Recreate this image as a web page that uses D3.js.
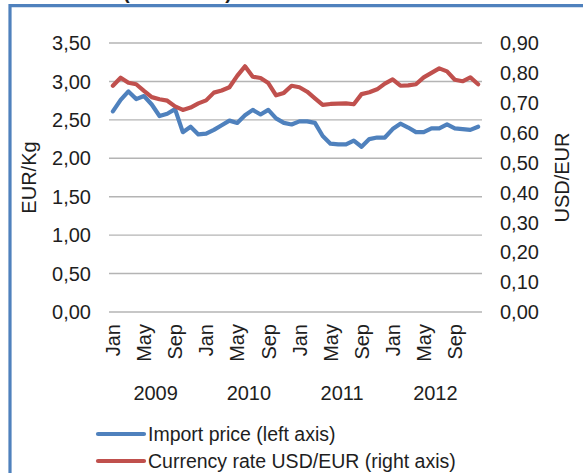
<!DOCTYPE html>
<html>
<head>
<meta charset="utf-8">
<script src="https://cdn.jsdelivr.net/npm/d3@7"></script>
<style>
  body { margin: 0; background: #fff; }
  svg { display: block; font-family: "Liberation Sans", Arial, sans-serif; }
</style>
</head>
<body>
<svg width="583" height="473"></svg>
<script>
// months Jan 2009 .. Dec 2012
const years = ["2009", "2010", "2011", "2012"];
const monthNames = ["Jan", "Feb", "Mar", "Apr", "May", "Jun", "Jul", "Aug", "Sep", "Oct", "Nov", "Dec"];
const shownMonths = ["Jan", "May", "Sep"];

// import price, EUR/Kg (left axis)
const importPrice = [
  2.61, 2.76, 2.87, 2.77, 2.81, 2.70, 2.55, 2.58, 2.64, 2.34, 2.41, 2.31,
  2.32, 2.37, 2.43, 2.49, 2.46, 2.56, 2.63, 2.57, 2.63, 2.52, 2.46, 2.44,
  2.48, 2.48, 2.46, 2.29, 2.19, 2.18, 2.18, 2.23, 2.15, 2.25, 2.27, 2.27,
  2.38, 2.45, 2.40, 2.34, 2.34, 2.39, 2.39, 2.44, 2.39, 2.38, 2.37, 2.41
];

// currency rate USD/EUR (right axis)
const currencyRate = [
  0.757, 0.784, 0.767, 0.762, 0.740, 0.719, 0.712, 0.707, 0.688, 0.676, 0.684, 0.698,
  0.708, 0.734, 0.741, 0.752, 0.790, 0.822, 0.787, 0.783, 0.766, 0.725, 0.733, 0.757,
  0.752, 0.737, 0.715, 0.693, 0.696, 0.697, 0.698, 0.695, 0.729, 0.735, 0.745, 0.764,
  0.778, 0.757, 0.758, 0.762, 0.785, 0.800, 0.815, 0.805, 0.777, 0.772, 0.785, 0.762
];

const leftTicks = [0, 0.5, 1, 1.5, 2, 2.5, 3, 3.5];
const rightTicks = [0, 0.1, 0.2, 0.3, 0.4, 0.5, 0.6, 0.7, 0.8, 0.9];

const months = years.flatMap(y => monthNames.map(m => ({ year: y, month: m, key: m + " " + y })));

const svg = d3.select("svg");
const blue = "#4f81bd", red = "#c0504d", textCol = "#1e1e1e";
const fmt = v => d3.format(".2f")(v).replace(".", ",");

// frame (only top and left edges visible)
svg.append("line").attr("x1", 10).attr("x2", 583).attr("y1", 5.7).attr("y2", 5.7)
  .attr("stroke", blue).attr("stroke-width", 3.2);
svg.append("line").attr("x1", 10).attr("x2", 10).attr("y1", 4).attr("y2", 473)
  .attr("stroke", blue).attr("stroke-width", 3.2);

// title, cut off at the top of the picture
svg.append("text").attr("x", 123).attr("y", -1)
  .attr("font-size", 20).attr("font-weight", "bold").attr("fill", textCol)
  .text("(2009-2012)");

const x = d3.scaleBand().domain(months.map(d => d.key)).range([109, 482]);
const cx = k => x(k) + x.bandwidth() / 2;
const yL = d3.scaleLinear().domain([0, 3.5]).range([312, 43]);
const yR = d3.scaleLinear().domain([0, 0.9]).range([312, 43]);

// gridlines
svg.append("g").selectAll("line").data(leftTicks).join("line")
  .attr("x1", 109).attr("x2", 482)
  .attr("y1", d => yL(d)).attr("y2", d => yL(d))
  .attr("stroke", "#b4b4b4").attr("stroke-width", 1.4);

// left axis labels
svg.append("g").selectAll("text").data(leftTicks).join("text")
  .attr("x", 91).attr("y", d => yL(d)).attr("dy", "0.36em")
  .attr("text-anchor", "end").attr("font-size", 20).attr("fill", textCol)
  .text(fmt);

// right axis labels
svg.append("g").selectAll("text").data(rightTicks).join("text")
  .attr("x", 500).attr("y", d => yR(d)).attr("dy", "0.36em")
  .attr("font-size", 20).attr("fill", textCol)
  .text(fmt);

// axis titles
svg.append("text").attr("transform", "translate(29,177.5) rotate(-90)")
  .attr("dy", "0.36em").attr("text-anchor", "middle")
  .attr("font-size", 20).attr("fill", textCol).text("EUR/Kg");
svg.append("text").attr("transform", "translate(562,177.5) rotate(-90)")
  .attr("dy", "0.36em").attr("text-anchor", "middle")
  .attr("font-size", 20).attr("fill", textCol).text("USD/EUR");

// month labels
svg.append("g").selectAll("text")
  .data(months.filter(d => shownMonths.includes(d.month))).join("text")
  .attr("transform", d => `translate(${cx(d.key)},324) rotate(-90)`)
  .attr("dy", "0.36em").attr("text-anchor", "end")
  .attr("font-size", 20).attr("fill", textCol)
  .text(d => d.month);

// year labels
svg.append("g").selectAll("text").data(years).join("text")
  .attr("x", y => (x("Jan " + y) + x("Dec " + y) + x.bandwidth()) / 2)
  .attr("y", 400).attr("text-anchor", "middle")
  .attr("font-size", 20).attr("fill", textCol)
  .text(y => y);

// series lines
const lineL = d3.line().x((d, i) => cx(months[i].key)).y(d => yL(d));
const lineR = d3.line().x((d, i) => cx(months[i].key)).y(d => yR(d));

svg.append("path").datum(importPrice).attr("d", lineL)
  .attr("fill", "none").attr("stroke", blue).attr("stroke-width", 4.2)
  .attr("stroke-linejoin", "round").attr("stroke-linecap", "round");
svg.append("path").datum(currencyRate).attr("d", lineR)
  .attr("fill", "none").attr("stroke", red).attr("stroke-width", 4.2)
  .attr("stroke-linejoin", "round").attr("stroke-linecap", "round");

// legend
const legend = [
  { name: "Import price (left axis)", color: blue, y: 434 },
  { name: "Currency rate USD/EUR (right axis)", color: red, y: 461 }
];
const lg = svg.append("g").selectAll("g").data(legend).join("g");
lg.append("line").attr("x1", 98).attr("x2", 144)
  .attr("y1", d => d.y).attr("y2", d => d.y)
  .attr("stroke", d => d.color).attr("stroke-width", 4.2).attr("stroke-linecap", "round");
lg.append("text").attr("x", 148).attr("y", d => d.y).attr("dy", "0.36em")
  .attr("font-size", 19.5).attr("fill", textCol)
  .text(d => d.name);
</script>
</body>
</html>
